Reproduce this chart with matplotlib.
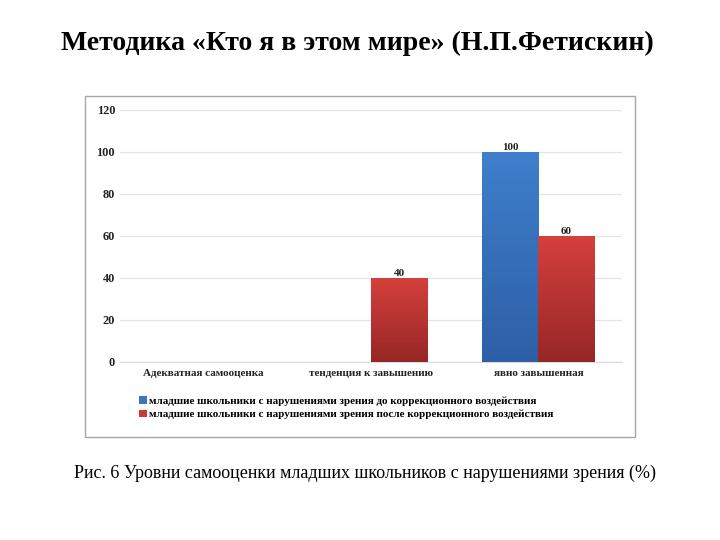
import matplotlib
matplotlib.use("Agg")
import matplotlib.pyplot as plt
import numpy as np
from matplotlib.patches import Rectangle, Patch
from matplotlib.colors import LinearSegmentedColormap

categories = ["Адекватная самооценка", "тенденция к завышению", "явно завышенная"]
before = [0, 0, 100]
after = [0, 40, 60]
series_names = ["младшие школьники с нарушениями зрения до коррекционного воздействия",
                "младшие школьники с нарушениями зрения после коррекционного воздействия"]
yticks = [0, 20, 40, 60, 80, 100, 120]
title = "Методика «Кто я в этом мире» (Н.П.Фетискин)"
caption = "Рис. 6 Уровни самооценки младших школьников с нарушениями зрения (%)"

plt.rcParams['font.family'] = ['Liberation Serif', 'DejaVu Serif']

fig = plt.figure(figsize=(7.2, 5.4), dpi=100)
fig.patch.set_facecolor('white')

# outer box of the chart picture
fig.patches.append(Rectangle((85/720, 1-437/540), 550/720, 341/540, transform=fig.transFigure,
                             facecolor='none', edgecolor='#a6a6a6', linewidth=1.0, zorder=-1))

ax = fig.add_axes([120/720, 1-362/540, 502/720, 252/540])
ax.set_facecolor('none')
x = np.arange(len(categories))
w = 0.335
cmap_blue = LinearSegmentedColormap.from_list('b', ['#2d5fa6', '#3f7fcc'])
cmap_red = LinearSegmentedColormap.from_list('r', ['#962726', '#d5403c'])
grad = np.linspace(0, 1, 256).reshape(-1, 1)

for vals, offset, cmap, col in [(before, -w/2, cmap_blue, '#3a75c0'), (after, w/2, cmap_red, '#c83a37')]:
    bars = ax.bar(x + offset, vals, width=w, color=col, edgecolor='none', zorder=2)
    for b, v in zip(bars, vals):
        if v <= 0:
            continue
        x0 = b.get_x()
        im = ax.imshow(grad, extent=[x0, x0 + b.get_width(), 0, v], origin='lower',
                       cmap=cmap, aspect='auto', zorder=3)
        im.set_clip_path(b)
        ax.text(x0 + b.get_width()/2, v + 0.2, f"{v}", ha='center', va='bottom',
                fontsize=8, fontweight='bold', color='#222222', zorder=4)

ax.set_xlim(-0.5, 2.5)
ax.set_ylim(0, 120)
ax.set_yticks(yticks)
ax.set_yticklabels([str(t) for t in yticks], fontsize=8.8, fontweight='bold', color='#222222')
ax.set_xticks(x)
ax.set_xticklabels(categories, fontsize=8, fontweight='bold', color='#222222')
ax.tick_params(axis='both', length=0)
ax.tick_params(axis='y', pad=3.5)
ax.tick_params(axis='x', pad=5)
ax.grid(axis='y', color='#e3e6e8', linewidth=0.9, zorder=0)
ax.set_axisbelow(True)
for s in ['left', 'right', 'top']:
    ax.spines[s].set_visible(False)
ax.spines['bottom'].set_color('#d9dcde')
ax.spines['bottom'].set_linewidth(0.9)

handles = [Patch(facecolor='#3a75c0', edgecolor='none'), Patch(facecolor='#c83a37', edgecolor='none')]
fig.legend(handles, series_names, loc='upper left', bbox_to_anchor=(139/720, 1-396/540),
           frameon=False, prop={'weight': 'bold', 'size': 8},
           handlelength=0.7, handleheight=0.7, handletextpad=0.2, labelspacing=0.35,
           borderaxespad=0, borderpad=0)

fig.text(357/720, 1-43/540, title, ha='center', va='center', fontsize=20, fontweight='bold')
fig.text(365/720, 1-473/540, caption, ha='center', va='center', fontsize=13)

fig.savefig('out.png', dpi=100, facecolor='white')
